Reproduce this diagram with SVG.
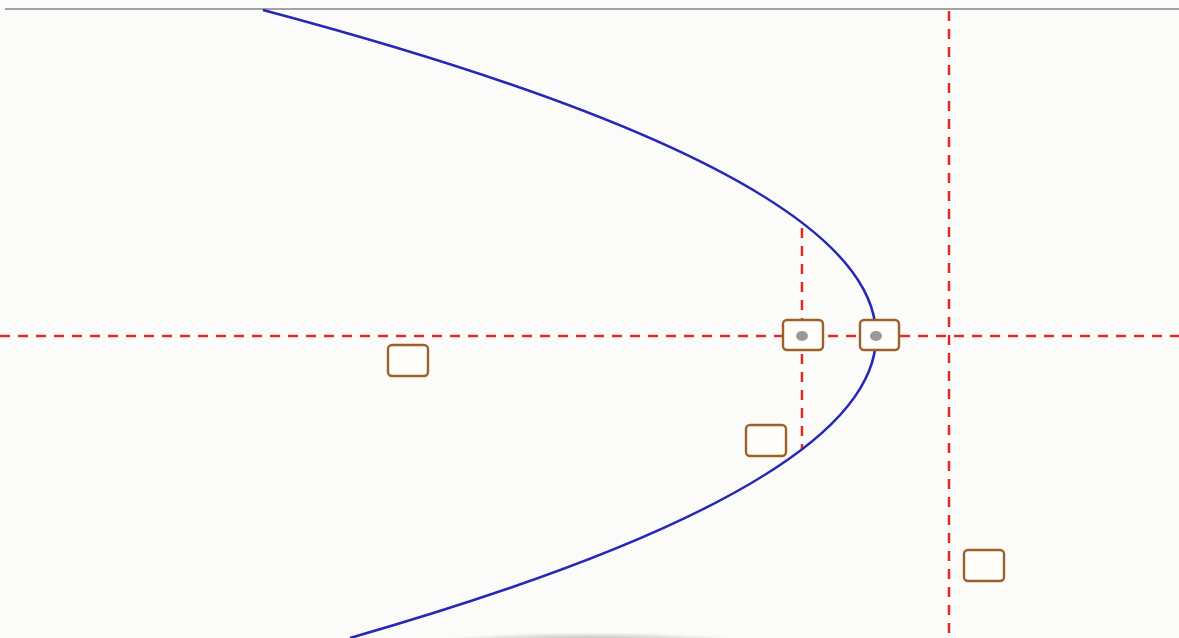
<svg xmlns="http://www.w3.org/2000/svg" width="1179" height="638" viewBox="0 0 1179 638">
<defs>
<radialGradient id="sh" cx="0.5" cy="0.5" r="0.5">
<stop offset="0" stop-color="#777" stop-opacity="0.8"/>
<stop offset="1" stop-color="#aaa" stop-opacity="0"/>
</radialGradient>
<style>
.dash{stroke:#dd2a2a;stroke-width:2.5;stroke-dasharray:10 8;fill:none}
.box{fill:#fffefa;stroke:#9c6028;stroke-width:2.4}
.dot{fill:#999}
</style>
</defs>
<rect width="1179" height="638" fill="#fbfcf9"/>
<line x1="5" y1="9" x2="1179" y2="9" stroke="#a3a3a3" stroke-width="2"/>
<ellipse cx="590" cy="642" rx="160" ry="10" fill="url(#sh)"/>
<g id="connectors">
<line class="dash" x1="0" y1="336" x2="1179" y2="336"/>
<line class="dash" x1="949" y1="11" x2="949" y2="638"/>
<line class="dash" x1="802" y1="228" x2="802" y2="450"/>
<path id="parabola" d="M263,10 Q1444,324 350,638" fill="none" stroke="#2626b8" stroke-width="2.6"/>
</g>
<g id="n1"><rect class="box" x="783" y="320" width="40" height="30" rx="4"/><ellipse class="dot" cx="802" cy="336" rx="6" ry="5"/></g>
<g id="n2"><rect class="box" x="860" y="320" width="39" height="30" rx="4"/><ellipse class="dot" cx="876" cy="336" rx="6" ry="5"/></g>
<g id="n3"><rect class="box" x="388" y="345" width="40" height="31" rx="4"/></g>
<g id="n4"><rect class="box" x="746" y="425" width="40" height="31" rx="4"/></g>
<g id="n5"><rect class="box" x="964" y="550" width="40" height="31" rx="4"/></g>
</svg>
